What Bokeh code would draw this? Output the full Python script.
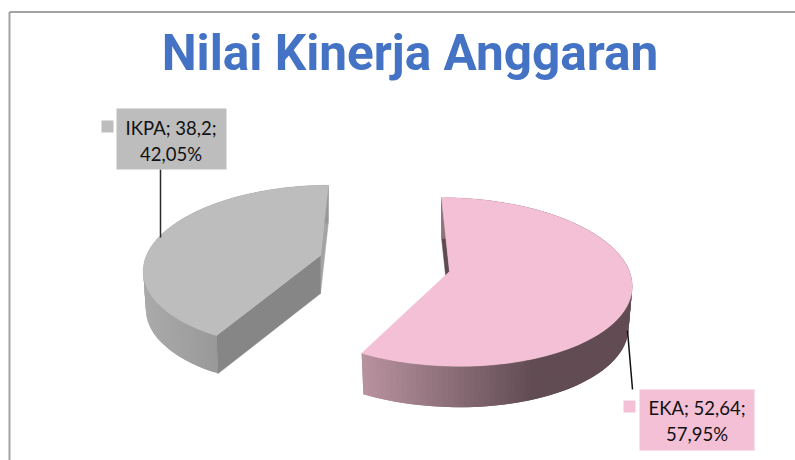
import numpy as np
from bokeh.plotting import figure
from bokeh.models import Range1d
from bokeh.core.properties import value
from bokeh.embed import file_html
from bokeh.resources import INLINE

title = "Nilai Kinerja Anggaran"
categories = ["EKA", "IKPA"]
values = [52.64, 38.2]
value_labels = ["52,64", "38,2"]
percent_labels = ["57,95%", "42,05%"]
colors = ["#f3c0d5", "#bdbdbd"]

W, H = 795, 460
p = figure(width=W, height=H, output_backend="svg", toolbar_location=None,
           x_range=Range1d(0, W), y_range=Range1d(H, 0),
           min_border=0, outline_line_color=None, background_fill_color="white",
           border_fill_color="white")
p.axis.visible = False
p.grid.visible = False

# chart frame
p.line([9, 9], [H, 11.5], line_color="#a2a2a2", line_width=2)
p.line([9, W], [11.5, 11.5], line_color="#a2a2a2", line_width=2)

split = 360.0 * values[0] / sum(values)


def project(theta_deg, g, lower=False):
    t = np.radians(theta_deg)
    u, v = np.sin(t), np.cos(t)
    w = 1 + g["p"] * v
    s = g["s"] if lower else 1.0
    x = g["cx"] + s * (g["a"] * u + g["k"] * v) / w
    y = g["cy"] - g["b"] * v / w + (g["d"] if lower else 0)
    return x, y


def mix(c1, c2, f):
    a = np.array([int(c1[i:i + 2], 16) for i in (1, 3, 5)], float)
    b = np.array([int(c2[i:i + 2], 16) for i in (1, 3, 5)], float)
    r = a + (b - a) * f
    return "#%02x%02x%02x" % tuple(int(round(q)) for q in r)


def draw_slice(start, end, g, top_color, back_color, cut_color, ramp):
    n = int(abs(end - start) / 1.5) + 2
    th = np.linspace(start, end, n)
    tx, ty = project(th, g)
    lx, ly = project(th, g, True)
    apex = (g["cx"], g["cy"])
    lapex = (g["cx"], g["cy"] + g["d"])
    # back wall at the 12 o'clock edge
    x0, y0 = project(360.0 if start > 0 else 0.0, g)
    x1, y1 = project(360.0 if start > 0 else 0.0, g, True)
    p.patch([x0, apex[0], lapex[0], x1], [y0, apex[1], lapex[1], y1],
            fill_color=back_color, line_color=back_color, line_width=0.5)
    # outer wall as overlapping shaded strips, so no seams show
    xs, ys, cs = [], [], []
    for i in range(n - 1):
        j = min(i + 2, n - 1)
        xs.append([tx[i], tx[j], lx[j], lx[i]])
        ys.append([ty[i], ty[j], ly[j], ly[i]])
        cs.append(ramp((tx[i] + tx[i + 1]) / 2))
    order = np.argsort([-np.mean(x) for x in xs]) if g["cx"] < 400 else range(len(xs))
    xs = [xs[i] for i in order]
    ys = [ys[i] for i in order]
    cs = [cs[i] for i in order]
    p.patches(xs, ys, fill_color=cs, line_color=None)
    # cut wall at the shared edge
    xc, yc = project(split, g)
    xd, yd = project(split, g, True)
    if cut_color:
        p.patch([apex[0], xc, xd, lapex[0]], [apex[1], yc, yd, lapex[1]],
                fill_color=cut_color, line_color=cut_color, line_width=0.5)
    # top face
    p.patch(list(tx) + [apex[0]], list(ty) + [apex[1]], fill_color=top_color,
            line_color=top_color, line_width=0.5)


gray_geo = dict(cx=320, cy=255, a=174, b=80, k=9, p=0.14, d=38, s=0.985)
pink_geo = dict(cx=449, cy=271, a=180, b=83, k=-9, p=0.124, d=41, s=0.98)


def gray_ramp(x):
    return mix("#aaaaaa", "#989898", float(np.clip((x - 145) / 75, 0, 1)))


def pink_ramp(x):
    return mix("#b8939f", "#624c53", float(np.clip((x - 362) / 170, 0, 1)))


draw_slice(split, 360.0, gray_geo, colors[1], "#a4a4a4", "#868686", gray_ramp)
draw_slice(0.0, split, pink_geo, colors[0], "#5f4a52", None, pink_ramp)

# leader lines
p.line([160, 160], [169, 237], line_color="#2b2b2b", line_width=1.5)
p.line([627, 632], [330, 389], line_color="#111111", line_width=1.5)

# data label boxes
p.quad(left=[639], right=[754], top=[389], bottom=[450], fill_color=colors[0], line_color=None)
p.quad(left=[116], right=[226], top=[108], bottom=[169], fill_color=colors[1], line_color=None)
p.quad(left=[623], right=[635], top=[400], bottom=[412], fill_color=colors[0], line_color=None)
p.quad(left=[101], right=[113], top=[120], bottom=[132], fill_color=colors[1], line_color=None)

label_font = value("Lato")
for cat, val, pct, cx, y1, y2 in [
    (categories[0], value_labels[0], percent_labels[0], 696.5, 407.5, 433.5),
    (categories[1], value_labels[1], percent_labels[1], 170.5, 127, 153),
]:
    p.text([cx], [y1], text=[f"{cat}; {val};"], text_font=label_font, text_font_size="18.5px",
           text_color="#111111", text_align="center", text_baseline="middle")
    p.text([cx], [y2], text=[pct], text_font=label_font, text_font_size="18.5px",
           text_color="#111111", text_align="center", text_baseline="middle")

p.text([409.5], [52], text=[title], text_font=value("Roboto"), text_font_size="49.5px",
       text_font_style="bold", text_color="#4472c4", text_align="center", text_baseline="middle")

open("out.html", "w").write(file_html(p, INLINE))
